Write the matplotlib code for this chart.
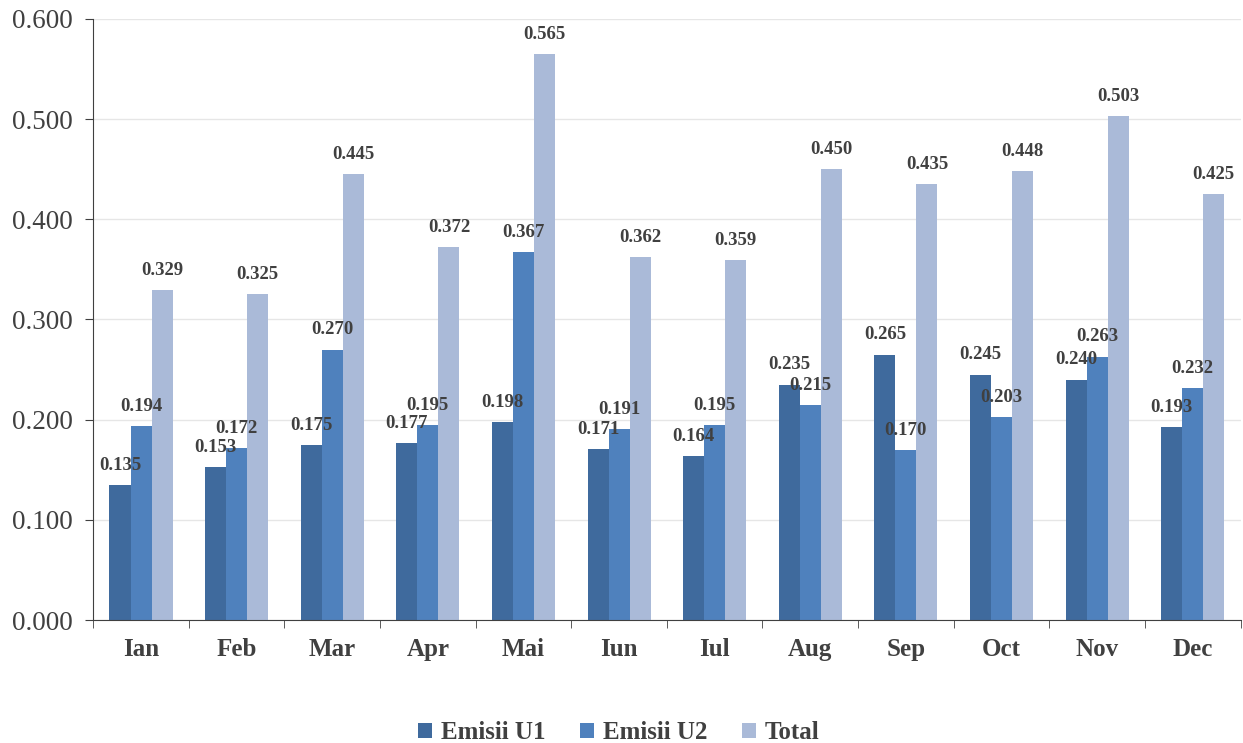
import numpy as np
import matplotlib.pyplot as plt

plt.rcParams['font.family'] = ['Liberation Serif', 'DejaVu Serif']

months = ['Ian', 'Feb', 'Mar', 'Apr', 'Mai', 'Iun', 'Iul', 'Aug', 'Sep', 'Oct', 'Nov', 'Dec']
emisii_u1 = [0.135, 0.153, 0.175, 0.177, 0.198, 0.171, 0.164, 0.235, 0.265, 0.245, 0.240, 0.193]
emisii_u2 = [0.194, 0.172, 0.270, 0.195, 0.367, 0.191, 0.195, 0.215, 0.170, 0.203, 0.263, 0.232]
total = [0.329, 0.325, 0.445, 0.372, 0.565, 0.362, 0.359, 0.450, 0.435, 0.448, 0.503, 0.425]

series = [('Emisii U1', emisii_u1, '#3F6A9D'),
          ('Emisii U2', emisii_u2, '#4F81BD'),
          ('Total', total, '#AABAD8')]

txt = '#404040'
fig = plt.figure(figsize=(12.43, 7.43), dpi=100)
ax = fig.add_axes([0.075, 0.1655, 0.923, 0.809])

x = np.arange(len(months))
w = 0.22
for i, (name, vals, col) in enumerate(series):
    pos = x + (i - 1) * w
    ax.bar(pos, vals, w, color=col, label=name, zorder=2)
    for p, v in zip(pos, vals):
        ax.annotate(f'{v:.3f}', (p, v), xytext=(0, 8), textcoords='offset points',
                    ha='center', va='bottom', fontsize=13.5, fontweight='bold', color=txt)

ax.set_xlim(-0.5, len(months) - 0.5)
ax.set_ylim(0, 0.6)
ax.set_yticks(np.arange(0, 0.61, 0.1))
ax.set_yticklabels([f'{t:.3f}' for t in np.arange(0, 0.61, 0.1)], fontsize=19.5, color=txt)
ax.set_xticks(x)
ax.set_xticklabels(months, fontsize=18, fontweight='bold', color=txt)
ax.tick_params(axis='x', length=0, pad=13)
ax.set_xticks(np.arange(-0.5, len(months), 1), minor=True)
ax.tick_params(axis='x', which='minor', length=6, color='#404040')
ax.tick_params(axis='y', length=6, color='#404040', pad=9)
ax.grid(axis='y', color='#E6E6E6', linewidth=1, zorder=0)
for s in ['top', 'right']:
    ax.spines[s].set_visible(False)
for s in ['left', 'bottom']:
    ax.spines[s].set_color('#404040')

leg = fig.legend(loc='lower center', bbox_to_anchor=(0.498, -0.032), ncol=3, frameon=False,
                 prop={'size': 18, 'weight': 'bold'}, handlelength=0.55, handleheight=0.55,
                 columnspacing=1.4, handletextpad=0.35)
for t in leg.get_texts():
    t.set_color(txt)

fig.savefig('out.png', dpi=100)
